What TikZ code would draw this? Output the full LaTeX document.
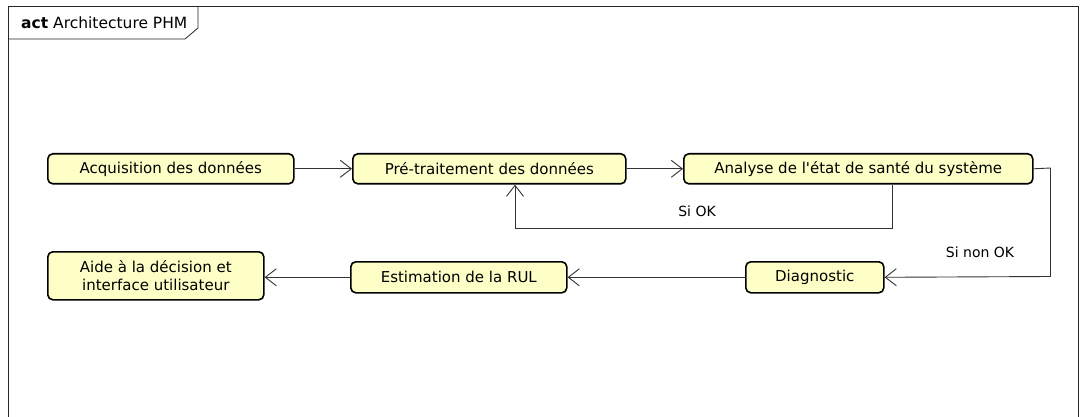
\documentclass[tikz,border=0pt]{standalone}
\usepackage{fontspec}
\setmainfont{DejaVu Sans}[Ligatures=TeXOff]
\usetikzlibrary{arrows.meta}
\definecolor{actfill}{HTML}{FEFFC6}
\tikzset{
  act/.style={draw=black, line width=1.6pt, rounded corners=5pt, fill=actfill, inner sep=0pt, font=\fontsize{15}{18}\selectfont, align=center, anchor=north west},
  flow/.style={draw=black!80, line width=0.9pt, -{Straight Barb[length=11pt,width=17pt,line width=0.9pt]}},
  lbl/.style={font=\fontsize{14}{16}\selectfont, inner sep=0pt}
}
\begin{document}
\begin{tikzpicture}[x=1pt,y=-1pt]
\useasboundingbox (0,0) rectangle (1080,417);
% frame
\draw[line width=0.8pt, black!85] (8,417) -- (8,6) -- (1078,6) -- (1078,417);
\draw[line width=0.8pt, black!85] (8,39) -- (185,39) -- (198,28) -- (198,6);
\node[anchor=west, inner sep=0pt, font=\fontsize{15.5}{18}\selectfont] (title) at (21,23) {\textbf{act} Architecture PHM};
% nodes
\node[act, minimum width=246pt, minimum height=30pt] (acq) at (47,153) {Acquisition des données};
\node[act, minimum width=273pt, minimum height=30pt] (pre) at (352,153) {Pré-traitement des données};
\node[act, minimum width=349pt, minimum height=30pt] (ana) at (683,153) {Analyse de l'état de santé du système};
\node[act, minimum width=216pt, minimum height=48pt] (aide) at (47,251) {Aide à la décision et\\interface utilisateur};
\node[act, minimum width=216pt, minimum height=31pt] (est) at (350,261) {Estimation de la RUL};
\node[act, minimum width=138pt, minimum height=31pt] (diag) at (745,261) {Diagnostic};
% connectors
\coordinate (ok1) at (892,228);
\coordinate (ok2) at (515,228);
\coordinate (nok1) at (1050.5,168);
\coordinate (nok2) at (1050.5,276.5);
\draw[flow] (acq.east) -- (pre.west);
\draw[flow] (pre.east) -- (ana.west);
\draw[flow] (ana.south -| ok1) -- (ok1) -- (ok2) -- (ok2 |- pre.south);
\draw[flow] (ana.east) -- (nok1) -- (nok2) -- (diag.east);
\draw[flow] (diag.west) -- (est.east);
\draw[flow] (est.west) -- (aide.east |- est.west);
\node[lbl] (siok) at (697,211) {Si OK};
\node[lbl] (sinok) at (980,252) {Si non OK};
\end{tikzpicture}
\end{document}
